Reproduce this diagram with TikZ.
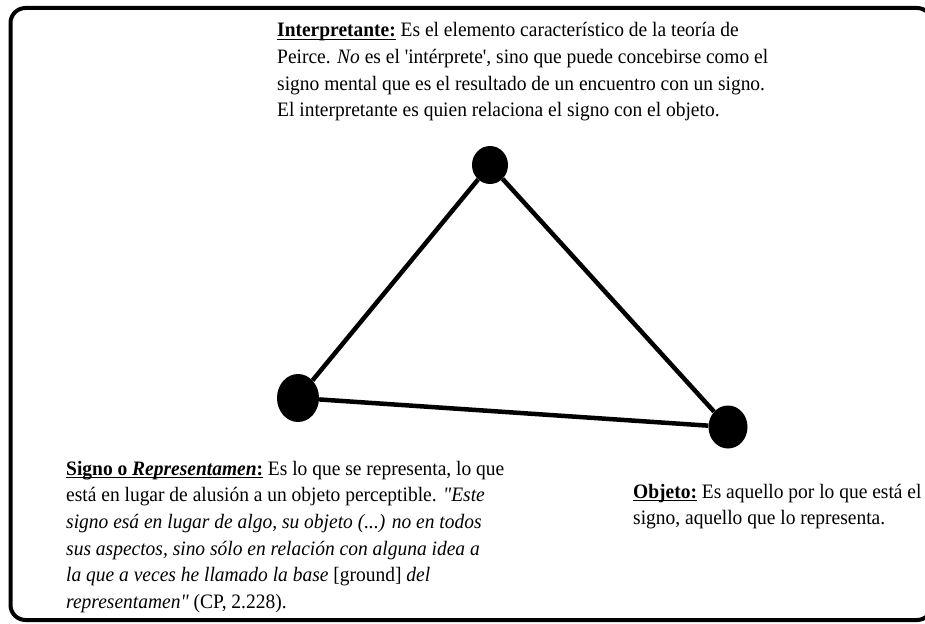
\documentclass[tikz,border=0pt]{standalone}
\usepackage{fontspec}
\newfontfamily\serifa{Liberation Serif}[FakeStretch=0.95]
\newsavebox{\cajasub}
\newcommand{\subrayado}[1]{\sbox{\cajasub}{#1}\rlap{\rule[-3pt]{\wd\cajasub}{1.3pt}}\usebox{\cajasub}}
\usetikzlibrary{shapes,positioning}

\begin{document}
\begin{tikzpicture}[x=1pt,y=-1pt,
		vertice/.style={ellipse,fill=black,inner sep=0pt},
		texto/.style={anchor=north west,align=left,inner sep=0pt,font=\serifa\fontsize{20.5}{26.6}\selectfont}]
			\useasboundingbox (0,0) rectangle (925,623);
			% Marco
			\draw[line width=4pt,rounded corners=15pt] (10.5,8) rectangle (932,620);
			
			% Vertices del triangulo
			\node[vertice,minimum width=36pt,minimum height=38pt] (interp) at (490,165) {};
			\node[vertice,minimum width=42pt,minimum height=48pt] (signo) at (298,398) {};
			\node[vertice,minimum width=39pt,minimum height=43pt] (objeto) at (728,427) {};
			
			% Lados
			\draw[line width=4.5pt] (signo) -- (interp) -- (objeto) -- (signo);
			
			% Textos
			\node[texto] (tinterp) at (277,18.1) {\strut\subrayado{\textbf{Interpretante:}} Es el elemento característico de la teoría de\\
				Peirce. \textit{No} es el 'intérprete', sino que puede concebirse como el\\
				signo mental que es el resultado de un encuentro con un signo.\\
				El interpretante es quien relaciona el signo con el objeto.};
			\node[texto] (tsigno) at (66,456.4) {\strut\subrayado{\textbf{Signo o \textit{Representamen}:}} Es lo que se representa, lo que\\
				está en lugar de alusión a un objeto perceptible. \textit{"Este}\\
				\textit{signo esá en lugar de algo, su objeto (...) no en todos}\\
				\textit{sus aspectos, sino sólo en relación con alguna idea a}\\
				\textit{la que a veces he llamado la base} [ground] \textit{del}\\
				\textit{representamen"} (CP, 2.228).};
			\node[texto] (tobjeto) at (633,479.4) {\strut\subrayado{\textbf{Objeto:}} Es aquello por lo que está el\\
				signo, aquello que lo representa.};
		\end{tikzpicture}
\end{document}
